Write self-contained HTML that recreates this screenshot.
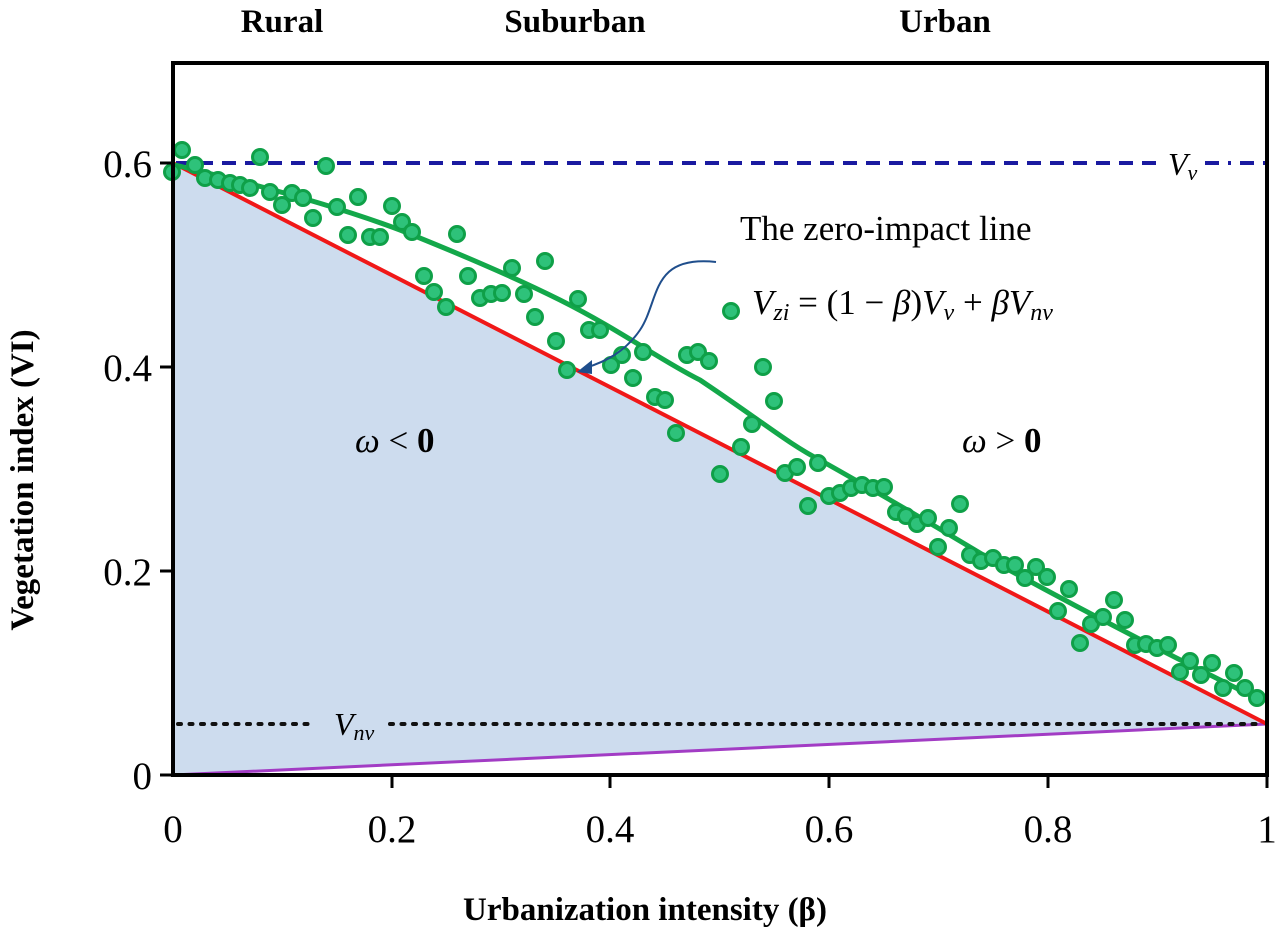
<!DOCTYPE html><html><head><style>body{margin:0;background:#fff}</style></head><body>
<svg width="1280" height="930" xmlns="http://www.w3.org/2000/svg" font-family="Liberation Serif, serif">
<polygon points="173,163 1267,724 173,775" fill="#cddcee"/>
<line x1="173" y1="775" x2="1267" y2="724" stroke="#a23cc4" stroke-width="3"/>
<line x1="173" y1="163" x2="1267" y2="724" stroke="#f01818" stroke-width="4"/>
<line x1="176" y1="163" x2="1160" y2="163" stroke="#1a1aa0" stroke-width="4" stroke-dasharray="14,9"/>
<line x1="1205" y1="163" x2="1267" y2="163" stroke="#1a1aa0" stroke-width="4" stroke-dasharray="14,9,3,9"/>
<line x1="178" y1="724" x2="316" y2="724" stroke="#111" stroke-width="4" stroke-dasharray="3,8.5" stroke-linecap="round"/>
<line x1="390" y1="724" x2="1264" y2="724" stroke="#111" stroke-width="4" stroke-dasharray="3,8.5" stroke-linecap="round"/>
<path d="M175,165 C300,195 360,215 400,230 C470,258 520,280 560,300 C620,330 660,360 700,380 C760,420 790,445 820,460 C900,505 950,535 1000,565 C1100,620 1180,660 1260,700" fill="none" stroke="#13a84a" stroke-width="5"/>
<g fill="#2ec27a" stroke="#0fa048" stroke-width="3">
<circle cx="172" cy="172" r="7.5"/><circle cx="182" cy="150" r="7.5"/><circle cx="195" cy="165" r="7.5"/><circle cx="205" cy="178" r="7.5"/><circle cx="218" cy="180" r="7.5"/><circle cx="230" cy="183" r="7.5"/><circle cx="240" cy="185" r="7.5"/><circle cx="250" cy="188" r="7.5"/><circle cx="260" cy="157" r="7.5"/><circle cx="270" cy="192" r="7.5"/><circle cx="282" cy="205" r="7.5"/><circle cx="292" cy="193" r="7.5"/><circle cx="303" cy="198" r="7.5"/><circle cx="313" cy="218" r="7.5"/><circle cx="326" cy="166" r="7.5"/><circle cx="337" cy="207" r="7.5"/><circle cx="348" cy="235" r="7.5"/><circle cx="358" cy="197" r="7.5"/><circle cx="370" cy="237" r="7.5"/><circle cx="380" cy="237" r="7.5"/><circle cx="392" cy="206" r="7.5"/><circle cx="402" cy="222" r="7.5"/><circle cx="412" cy="232" r="7.5"/><circle cx="424" cy="276" r="7.5"/><circle cx="434" cy="292" r="7.5"/><circle cx="446" cy="307" r="7.5"/><circle cx="457" cy="234" r="7.5"/><circle cx="468" cy="276" r="7.5"/><circle cx="480" cy="298" r="7.5"/><circle cx="491" cy="294" r="7.5"/><circle cx="502" cy="293" r="7.5"/><circle cx="512" cy="268" r="7.5"/><circle cx="524" cy="294" r="7.5"/><circle cx="535" cy="317" r="7.5"/><circle cx="545" cy="261" r="7.5"/><circle cx="556" cy="341" r="7.5"/><circle cx="567" cy="370" r="7.5"/><circle cx="578" cy="299" r="7.5"/><circle cx="589" cy="330" r="7.5"/><circle cx="600" cy="330" r="7.5"/><circle cx="611" cy="365" r="7.5"/><circle cx="622" cy="355" r="7.5"/><circle cx="633" cy="378" r="7.5"/><circle cx="643" cy="352" r="7.5"/><circle cx="655" cy="397" r="7.5"/><circle cx="665" cy="400" r="7.5"/><circle cx="676" cy="433" r="7.5"/><circle cx="687" cy="355" r="7.5"/><circle cx="698" cy="352" r="7.5"/><circle cx="709" cy="361" r="7.5"/><circle cx="720" cy="474" r="7.5"/><circle cx="731" cy="311" r="7.5"/><circle cx="741" cy="447" r="7.5"/><circle cx="752" cy="424" r="7.5"/><circle cx="763" cy="367" r="7.5"/><circle cx="774" cy="401" r="7.5"/><circle cx="785" cy="473" r="7.5"/><circle cx="797" cy="467" r="7.5"/><circle cx="808" cy="506" r="7.5"/><circle cx="818" cy="463" r="7.5"/><circle cx="829" cy="496" r="7.5"/><circle cx="840" cy="493" r="7.5"/><circle cx="851" cy="488" r="7.5"/><circle cx="862" cy="485" r="7.5"/><circle cx="873" cy="488" r="7.5"/><circle cx="884" cy="487" r="7.5"/><circle cx="896" cy="512" r="7.5"/><circle cx="906" cy="516" r="7.5"/><circle cx="917" cy="524" r="7.5"/><circle cx="928" cy="518" r="7.5"/><circle cx="938" cy="547" r="7.5"/><circle cx="949" cy="528" r="7.5"/><circle cx="960" cy="504" r="7.5"/><circle cx="970" cy="555" r="7.5"/><circle cx="981" cy="561" r="7.5"/><circle cx="993" cy="558" r="7.5"/><circle cx="1004" cy="565" r="7.5"/><circle cx="1015" cy="565" r="7.5"/><circle cx="1025" cy="578" r="7.5"/><circle cx="1036" cy="567" r="7.5"/><circle cx="1047" cy="577" r="7.5"/><circle cx="1058" cy="611" r="7.5"/><circle cx="1069" cy="589" r="7.5"/><circle cx="1080" cy="643" r="7.5"/><circle cx="1091" cy="624" r="7.5"/><circle cx="1103" cy="617" r="7.5"/><circle cx="1114" cy="600" r="7.5"/><circle cx="1125" cy="620" r="7.5"/><circle cx="1135" cy="645" r="7.5"/><circle cx="1146" cy="644" r="7.5"/><circle cx="1157" cy="648" r="7.5"/><circle cx="1168" cy="645" r="7.5"/><circle cx="1180" cy="672" r="7.5"/><circle cx="1190" cy="661" r="7.5"/><circle cx="1201" cy="675" r="7.5"/><circle cx="1212" cy="663" r="7.5"/><circle cx="1223" cy="688" r="7.5"/><circle cx="1234" cy="673" r="7.5"/><circle cx="1245" cy="688" r="7.5"/><circle cx="1257" cy="698" r="7.5"/>
</g>
<rect x="173" y="63" width="1094" height="712" fill="none" stroke="#000" stroke-width="4"/>
<g stroke="#000" stroke-width="3">
<line x1="160" y1="163" x2="173" y2="163"/><line x1="160" y1="367" x2="173" y2="367"/><line x1="160" y1="571" x2="173" y2="571"/><line x1="160" y1="775" x2="173" y2="775"/>
<line x1="392" y1="775" x2="392" y2="788"/><line x1="610" y1="775" x2="610" y2="788"/><line x1="829" y1="775" x2="829" y2="788"/><line x1="1048" y1="775" x2="1048" y2="788"/><line x1="1267" y1="775" x2="1267" y2="788"/>
</g>
<g font-size="39" fill="#000">
<text x="152" y="177" text-anchor="end">0.6</text><text x="152" y="381" text-anchor="end">0.4</text><text x="152" y="585" text-anchor="end">0.2</text><text x="152" y="789" text-anchor="end">0</text>
<text x="173" y="842" text-anchor="middle">0</text><text x="392" y="842" text-anchor="middle">0.2</text><text x="610" y="842" text-anchor="middle">0.4</text><text x="829" y="842" text-anchor="middle">0.6</text><text x="1048" y="842" text-anchor="middle">0.8</text><text x="1267" y="842" text-anchor="middle">1</text>
</g>
<g font-size="33" font-weight="bold">
<text x="282" y="32" text-anchor="middle">Rural</text><text x="575" y="32" text-anchor="middle">Suburban</text><text x="945" y="32" text-anchor="middle">Urban</text>
<text x="645" y="920" text-anchor="middle">Urbanization intensity (β)</text>
<text transform="translate(33,480) rotate(-90)" text-anchor="middle">Vegetation index (VI)</text>
</g>
<text x="1168" y="175" font-size="32" font-style="italic">V<tspan font-size="22" dy="5">v</tspan></text>
<text x="334" y="735" font-size="32" font-style="italic">V<tspan font-size="22" dy="5">nv</tspan></text>
<text x="740" y="240" font-size="35">The zero-impact  line</text>
<text x="752" y="314" font-size="35"><tspan font-style="italic">V</tspan><tspan font-size="24" dy="6" font-style="italic">zi</tspan><tspan dy="-6"> = (1 − </tspan><tspan font-style="italic">β</tspan>)<tspan font-style="italic">V</tspan><tspan font-size="24" dy="6" font-style="italic">v</tspan><tspan dy="-6"> + </tspan><tspan font-style="italic">βV</tspan><tspan font-size="24" dy="6" font-style="italic">nv</tspan></text>
<text x="355" y="452" font-size="35"><tspan font-style="italic">ω</tspan> &lt; <tspan font-weight="bold">0</tspan></text>
<text x="962" y="452" font-size="35"><tspan font-style="italic">ω</tspan> &gt; <tspan font-weight="bold">0</tspan></text>
<path d="M716,262 C650,255 660,300 640,330 C625,352 605,362 585,368" fill="none" stroke="#1f4e8c" stroke-width="2"/>
<polygon points="577,372 592,360 592,374" fill="#1f4e8c"/>
</svg>
</body></html>
